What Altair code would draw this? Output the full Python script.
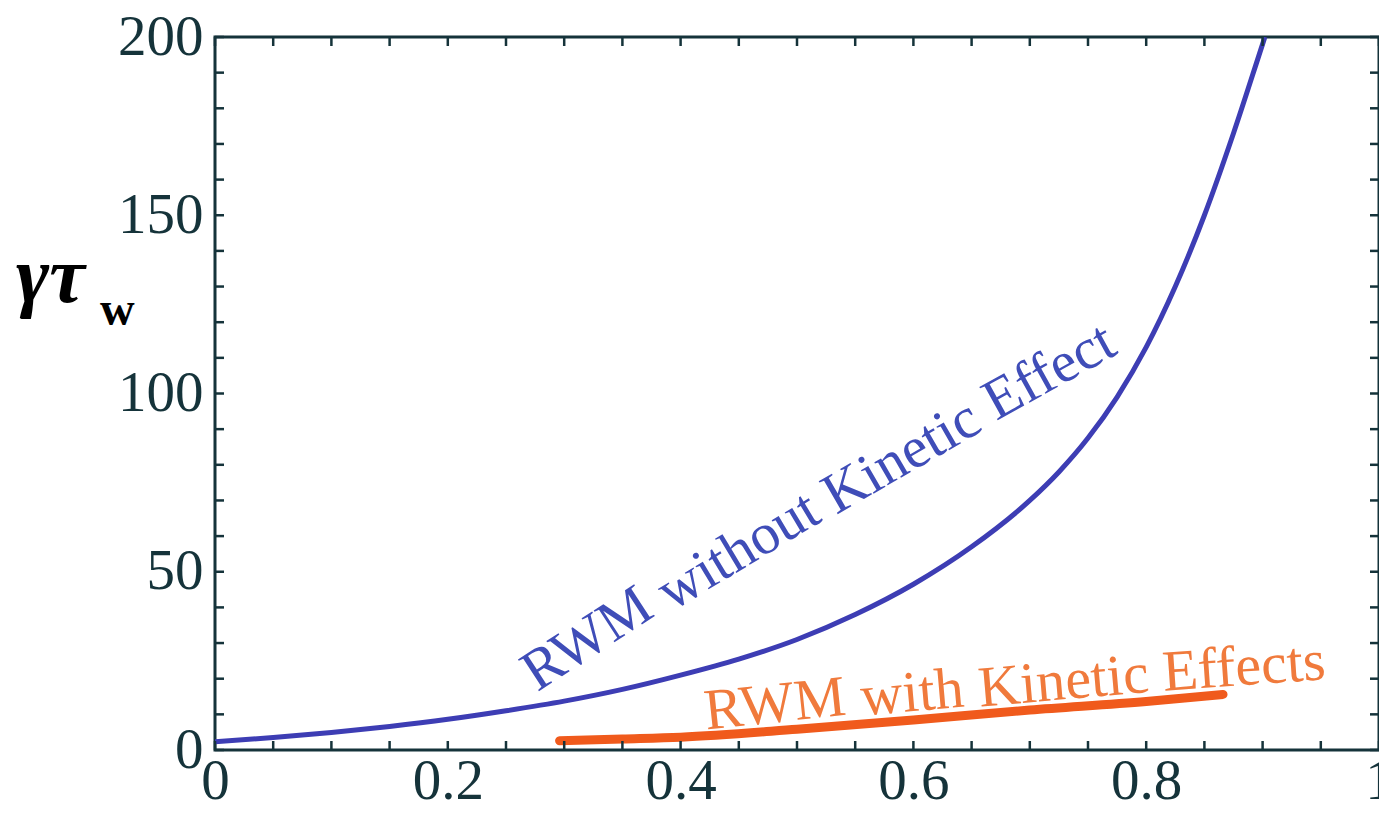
import altair as alt
import pandas as pd

# ---- data ----
blue_x = [0, 0.05, 0.1, 0.15, 0.2, 0.25, 0.3, 0.35, 0.4, 0.45, 0.5, 0.55,
          0.6, 0.65, 0.7, 0.725, 0.75, 0.775, 0.8, 0.825, 0.85, 0.875, 0.9, 0.902]
blue_y = [2.3, 3.5, 4.9, 6.6, 8.6, 11.0, 13.7, 17.0, 21.0, 25.5, 31.0, 38.0,
          46.5, 57.0, 70.0, 78.0, 87.5, 99.0, 113.0, 130.0, 150.0, 173.0, 198.0, 200.0]

orange_x = [0.296, 0.35, 0.4, 0.5, 0.6, 0.7, 0.8, 0.866]
orange_y = [2.6, 3.1, 3.6, 5.8, 8.4, 11.2, 13.6, 15.6]

x_label_values = [0, 0.2, 0.4, 0.6, 0.8, 1]
y_label_values = [0, 50, 100, 150, 200]
x_tick_values = [0, 0.05, 0.1, 0.15, 0.2, 0.25, 0.3, 0.35, 0.4, 0.45, 0.5,
                 0.55, 0.6, 0.65, 0.7, 0.75, 0.8, 0.85, 0.9, 0.95, 1.0]
y_tick_values = [0, 10, 20, 30, 40, 50, 60, 70, 80, 90, 100, 110, 120, 130,
                 140, 150, 160, 170, 180, 190, 200]

blue_words = ["RWM", "without", "Kinetic", "Effect"]
blue_word_x = [0.320, 0.450, 0.590, 0.717]
blue_word_y = [31.0, 55.7, 82.0, 106.0]
blue_word_angle = [327, 329, 330, 331]

orange_words = ["RWM", "with", "Kinetic", "Effects"]
orange_word_x = [0.481, 0.599, 0.729, 0.884]
orange_word_y = [12.6, 15.7, 19.0, 23.0]
orange_word_angle = [354, 355, 355, 356]

# ---- styling ----
W, H = 1164, 713
FRAME = "#15333a"
BLUE = "#3d3db4"
BLUE_TXT = "#3f4db8"
ORANGE = "#f05a1c"
ORANGE_TXT = "#f07a3c"
FONT = "Liberation Serif"

xs = alt.Scale(domain=[0, 1], nice=False, zero=False)
ys = alt.Scale(domain=[0, 200], nice=False, zero=False)

x_axis = alt.Axis(values=x_label_values, format=".1~f", title=None, grid=False,
                  domain=False, ticks=False, labelFont=FONT, labelFontSize=57,
                  labelColor=FRAME, labelPadding=3, labelFlush=False,
                  labelOverlap=False)
y_axis = alt.Axis(values=y_label_values, title=None, grid=False, domain=False,
                  ticks=False, labelFont=FONT, labelFontSize=57, labelColor=FRAME,
                  labelPadding=12, labelFlush=False, labelOverlap=False)

X = lambda: alt.X("x:Q", scale=xs, axis=x_axis)
Y = lambda: alt.Y("y:Q", scale=ys, axis=y_axis)

blue_df = pd.DataFrame({"x": blue_x, "y": blue_y})
orange_df = pd.DataFrame({"x": orange_x, "y": orange_y})
xt_df = pd.DataFrame({"x": x_tick_values})
yt_df = pd.DataFrame({"y": y_tick_values})
bw_df = pd.DataFrame({"t": blue_words, "x": blue_word_x, "y": blue_word_y, "a": blue_word_angle})
ow_df = pd.DataFrame({"t": orange_words, "x": orange_word_x, "y": orange_word_y, "a": orange_word_angle})

blue = alt.Chart(blue_df).mark_line(color=BLUE, strokeWidth=5, interpolate="monotone",
                                    clip=True).encode(x=X(), y=Y())

orange = alt.Chart(orange_df).mark_line(color=ORANGE, strokeWidth=9, strokeCap="round",
                                        interpolate="monotone", clip=True).encode(x=X(), y=Y())

tick_len = 9
bottom_ticks = alt.Chart(xt_df).mark_rule(color=FRAME, strokeWidth=2.5).encode(
    x=X(), y=alt.value(H), y2=alt.value(H - tick_len))
top_ticks = alt.Chart(xt_df).mark_rule(color=FRAME, strokeWidth=2.5).encode(
    x=X(), y=alt.value(0), y2=alt.value(tick_len))
left_ticks = alt.Chart(yt_df).mark_rule(color=FRAME, strokeWidth=2.5).encode(
    y=Y(), x=alt.value(0), x2=alt.value(tick_len))
right_ticks = alt.Chart(yt_df).mark_rule(color=FRAME, strokeWidth=2.5).encode(
    y=Y(), x=alt.value(W), x2=alt.value(W - tick_len))

blue_text = alt.Chart(bw_df).mark_text(font=FONT, fontSize=58, color=BLUE_TXT,
                                       align="center", baseline="middle").encode(
    x=X(), y=Y(), text="t:N", angle=alt.Angle("a:Q", scale=None))

orange_text = alt.Chart(ow_df).mark_text(font=FONT, fontSize=58, color=ORANGE_TXT,
                                         align="center", baseline="middle").encode(
    x=X(), y=Y(), text="t:N", angle=alt.Angle("a:Q", scale=None))

title_df = pd.DataFrame({"t": ["γτ"]})
sub_df = pd.DataFrame({"t": ["w"]})
ytitle = alt.Chart(title_df).mark_text(font=FONT, fontSize=80, fontWeight="bold",
                                       fontStyle="italic", color="black", align="left",
                                       baseline="alphabetic").encode(
    text="t:N", x=alt.value(-199), y=alt.value(265))
ysub = alt.Chart(sub_df).mark_text(font=FONT, fontSize=48, fontWeight="bold",
                                   color="black", align="left",
                                   baseline="alphabetic").encode(
    text="t:N", x=alt.value(-115), y=alt.value(288))

chart = alt.layer(
    blue, orange, bottom_ticks, top_ticks, left_ticks, right_ticks,
    blue_text, orange_text, ytitle, ysub
).properties(
    width=W, height=H,
    autosize=alt.AutoSizeParams(type="none"),
    padding={"left": 207, "top": 29, "right": 0, "bottom": 60},
    background="white",
).configure_view(stroke=FRAME, strokeWidth=3)

chart.save("out.html", embed_options={"renderer": "svg", "actions": False})
